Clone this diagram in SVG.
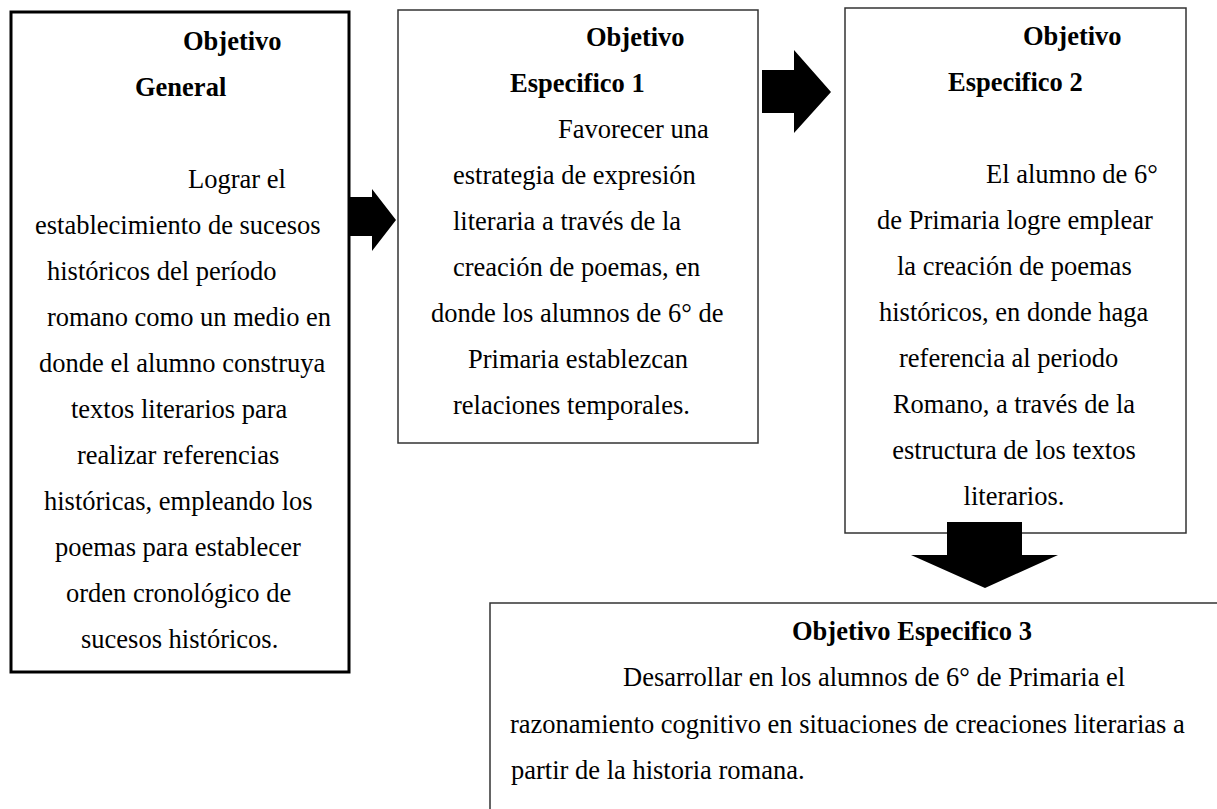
<svg xmlns="http://www.w3.org/2000/svg" width="1217" height="809" viewBox="0 0 1217 809">
<style>
  text { font-family: "Liberation Serif", "Times New Roman", serif; font-size: 26.5px; fill: #000; }
  .b { font-weight: bold; }
  .c { text-anchor: middle; }
  .box { fill: #fff; stroke: #333; stroke-width: 1.5; }
  .box1 { fill: #fff; stroke: #000; stroke-width: 3; }
  .arrow { fill: #000; stroke: none; }
</style>
<rect x="0" y="0" width="1217" height="809" fill="#fff"/>

<g id="objetivo-general">
  <rect class="box1" x="11" y="12" width="338" height="660"/>
  <text class="b" x="183" y="50">Objetivo</text>
  <text class="b" x="135" y="96">General</text>
  <text x="188" y="188">Lograr el</text>
  <text x="35" y="234">establecimiento de sucesos</text>
  <text x="47" y="280">históricos del período</text>
  <text x="47" y="326">romano como un medio en</text>
  <text x="39" y="372">donde el alumno construya</text>
  <text x="71" y="418">textos literarios para</text>
  <text x="77" y="464">realizar referencias</text>
  <text x="44" y="510">históricas, empleando los</text>
  <text x="55" y="556">poemas para establecer</text>
  <text x="66" y="602">orden cronológico de</text>
  <text x="81" y="648">sucesos históricos.</text>
</g>

<g id="objetivo-especifico-1">
  <rect class="box" x="398" y="10" width="360" height="433"/>
  <text class="b" x="586" y="46">Objetivo</text>
  <text class="b" x="510" y="92">Especifico 1</text>
  <text x="558" y="138">Favorecer una</text>
  <text x="453" y="184">estrategia de expresión</text>
  <text x="453" y="230">literaria a través de la</text>
  <text x="453" y="276">creación de poemas, en</text>
  <text x="431" y="322">donde los alumnos de 6° de</text>
  <text x="468" y="368">Primaria establezcan</text>
  <text x="453" y="414">relaciones temporales.</text>
</g>

<g id="objetivo-especifico-2">
  <rect class="box" x="845" y="8" width="341" height="525"/>
  <text class="b" x="1023" y="45">Objetivo</text>
  <text class="b" x="948" y="91">Especifico 2</text>
  <text x="986" y="183">El alumno de 6°</text>
  <text x="877" y="229">de Primaria logre emplear</text>
  <text x="897" y="275">la creación de poemas</text>
  <text x="879" y="321">históricos, en donde haga</text>
  <text x="899" y="367">referencia al periodo</text>
  <text class="c" x="1014" y="413">Romano, a través de la</text>
  <text class="c" x="1014" y="459">estructura de los textos</text>
  <text class="c" x="1014" y="505">literarios.</text>
</g>

<g id="objetivo-especifico-3">
  <rect class="box" x="490" y="603" width="760" height="240" stroke-width="2"/>
  <text class="b" x="792" y="640">Objetivo Especifico 3</text>
  <text x="623" y="686">Desarrollar en los alumnos de 6° de Primaria el</text>
  <text x="510" y="733">razonamiento cognitivo en situaciones de creaciones literarias a</text>
  <text x="511" y="779">partir de la historia romana.</text>
</g>

<g id="connectors">
  <polygon class="arrow" points="349,197 372,197 372,189 396,220 372,251 372,236 349,236"/>
  <polygon class="arrow" points="762,70 794,70 794,50 831,92 794,133 794,113 762,113"/>
  <polygon class="arrow" points="947,522 1022,522 1022,555 1058,555 985,588 911,555 947,555"/>
</g>
</svg>
